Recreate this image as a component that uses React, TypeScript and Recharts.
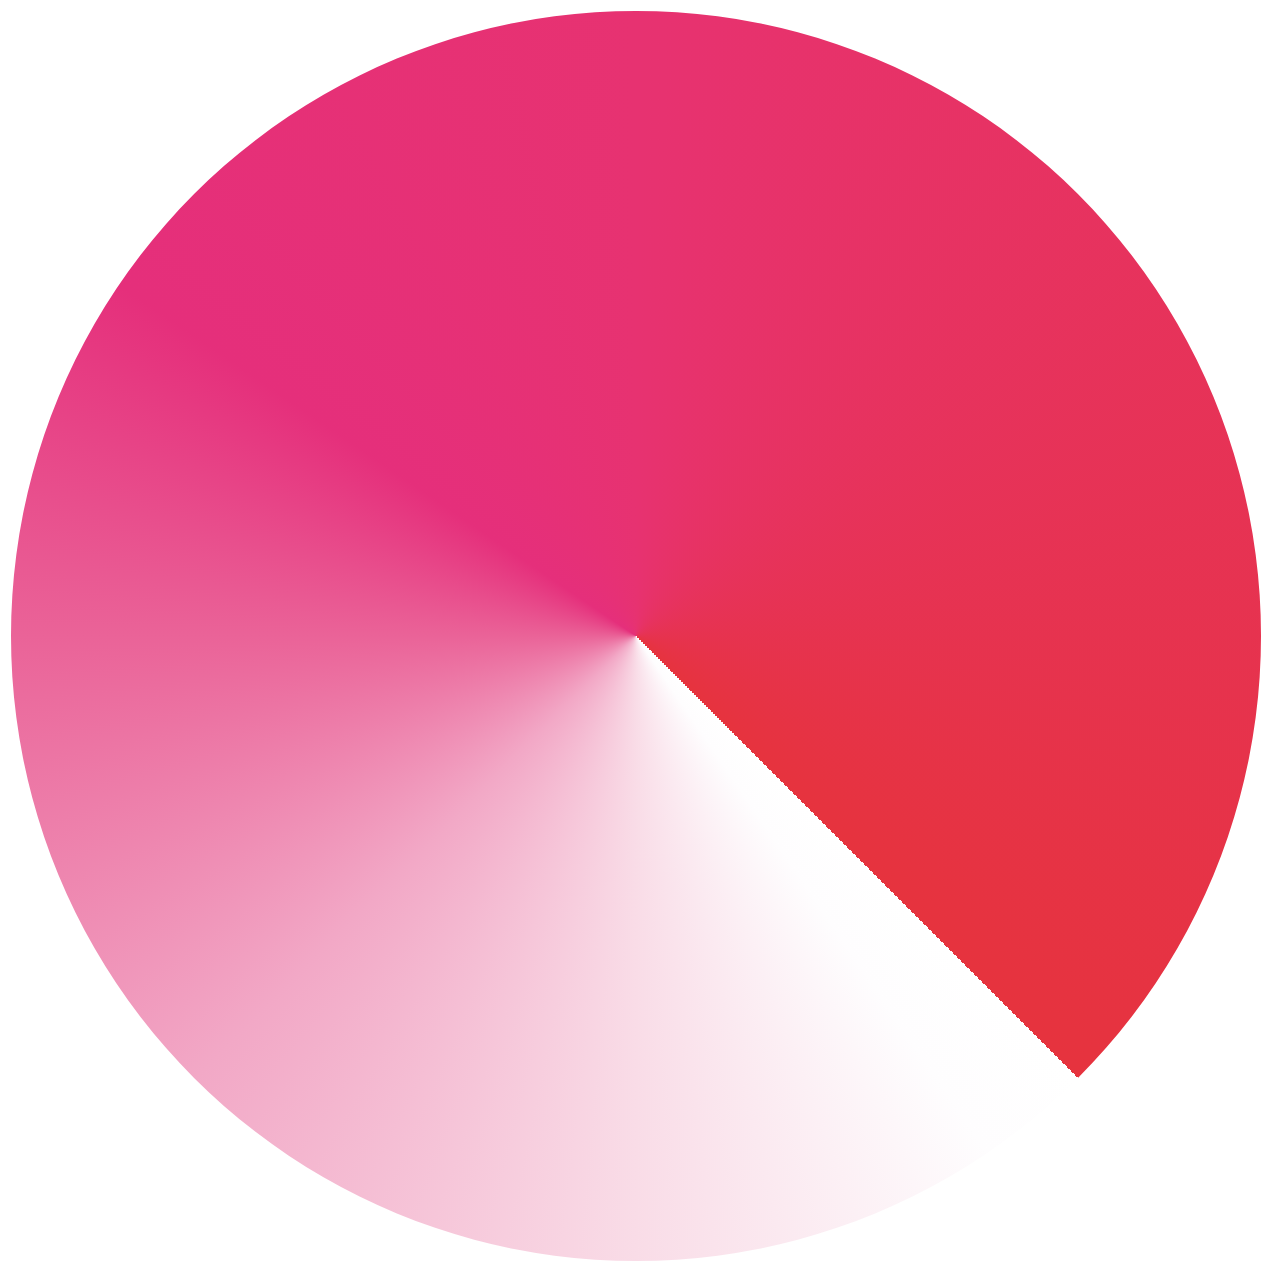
import { useMemo } from "react";
import { Cell, Pie, PieChart } from "recharts";

const CATEGORIES = ["Share"];
const VALUES = [100];

// conic gradient stops, clockwise from the 4:30 direction
const STOP_OFFSETS = [0, 0.03, 0.125, 0.25, 0.375, 0.47, 0.625, 1];
const STOP_COLORS = [
  "#ffffff",
  "#fefdfe",
  "#f9dce7",
  "#f2a8c6",
  "#ea6398",
  "#e52f7b",
  "#e73271",
  "#e6333e",
];

const SIZE = 1274;
const CX = 636;
const CY = 636;
const RADIUS = 625;

type ChartRow = { name: string; value: number };

function useConicImage(size: number) {
  return useMemo(() => {
    const canvas = document.createElement("canvas");
    canvas.width = size;
    canvas.height = size;
    const ctx = canvas.getContext("2d");
    if (!ctx) return "";
    const grad = ctx.createConicGradient(Math.PI / 4, size / 2, size / 2);
    STOP_OFFSETS.forEach((o, i) => grad.addColorStop(o, STOP_COLORS[i]));
    ctx.fillStyle = grad;
    ctx.fillRect(0, 0, size, size);
    return canvas.toDataURL("image/png");
  }, [size]);
}

export default function App() {
  const data: ChartRow[] = CATEGORIES.map((name, i) => ({
    name,
    value: VALUES[i],
  }));
  const img = useConicImage(RADIUS * 2);

  return (
    <div style={{ position: "absolute", left: 0, top: 0, width: SIZE, height: SIZE, background: "#fff" }}>
      <PieChart width={SIZE} height={SIZE} margin={{ top: 0, right: 0, bottom: 0, left: 0 }}>
        <defs>
          <pattern
            id="conicFill"
            patternUnits="userSpaceOnUse"
            x={CX - RADIUS}
            y={CY - RADIUS}
            width={RADIUS * 2}
            height={RADIUS * 2}
          >
            <image href={img} width={RADIUS * 2} height={RADIUS * 2} />
          </pattern>
        </defs>
        <Pie
          data={data}
          dataKey="value"
          nameKey="name"
          cx={CX}
          cy={CY}
          innerRadius={0}
          outerRadius={RADIUS}
          startAngle={0}
          endAngle={360}
          stroke="none"
          isAnimationActive={false}
        >
          {data.map((_, i) => (
            <Cell key={`cell-${i}`} fill="url(#conicFill)" />
          ))}
        </Pie>
      </PieChart>
    </div>
  );
}
